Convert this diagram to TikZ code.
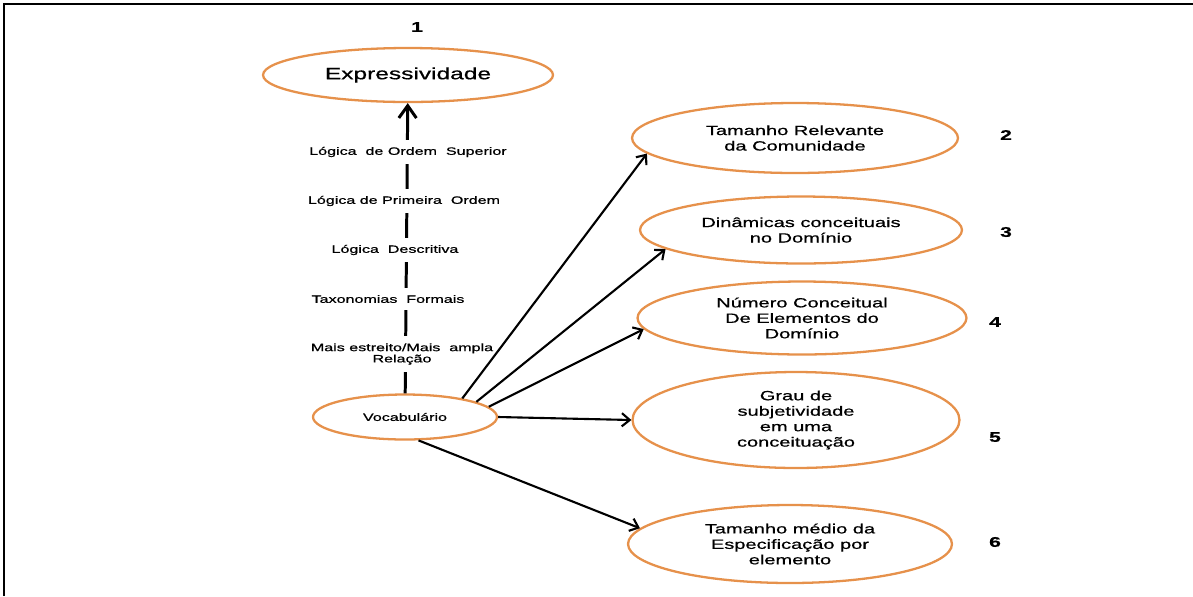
\documentclass[tikz,border=0pt]{standalone}
\usepackage{fontspec}
\setmainfont{Liberation Sans}[FakeStretch=1.5,FakeBold=0.7]
\usepackage{xcolor}
\usetikzlibrary{arrows.meta,shapes}
\definecolor{laranja}{RGB}{230,145,75}

\begin{document}
\begin{tikzpicture}[x=0.02cm,y=-0.02cm,
elipse/.style={shape=ellipse,draw=laranja,fill=white,line width=1.3pt,inner sep=0pt,align=center,font=\fontsize{7.6}{8.8}\selectfont},
rotulo/.style={fill=white,inner xsep=2pt,inner ysep=4pt,align=center,font=\fontsize{6.1}{6.4}\selectfont},
numero/.style={font=\bfseries\fontsize{8}{9}\selectfont},
seta/.style={-{Straight Barb[length=4.5pt,width=7.5pt]},line width=1.2pt}]
\useasboundingbox(0,0)rectangle(1193,596);
\draw[line width=1.5pt](4,596)--(4,4)--(1193,4);
% os dois extremos do eixo
\node[elipse,minimum width=5.8cm,minimum height=1.08cm,font=\fontsize{9.3}{11}\selectfont](expr)at(408,75){Expressividade};
\node[elipse,minimum width=3.68cm,minimum height=0.9cm,font=\fontsize{6.1}{7}\selectfont](vocab)at(405,417){Vocabulário};
\draw[line width=1.7pt,-{Straight Barb[length=7pt,width=10pt]}](vocab)--(expr);
\node[rotulo](sup)at(408,152){Lógica\ \ de Ordem\ \ Superior};
\node[rotulo](prim)at(404,201){Lógica de Primeira\ \ Ordem};
\node[rotulo](desc)at(395,250){Lógica\ \ Descritiva};
\node[rotulo](tax)at(388,299){Taxonomias\ \ Formais};
\node[rotulo](rel)at(402,354){Mais estreito/Mais\ \ ampla\\Relação};
% elipses da direita
\node[elipse,minimum width=6.52cm,minimum height=1.4cm](e2)at(795,138){Tamanho Relevante\\da Comunidade};
\node[elipse,minimum width=6.44cm,minimum height=1.34cm](e3)at(801,230){Dinâmicas conceituais\\no Domínio};
\node[elipse,minimum width=6.58cm,minimum height=1.46cm](e4)at(802,318){Número Conceitual\\De Elementos do\\Domínio};
\node[elipse,minimum width=6.54cm,minimum height=1.92cm](e5)at(796,420){Grau de\\subjetividade\\em uma\\conceituação};
\node[elipse,minimum width=6.48cm,minimum height=1.56cm](e6)at(790,544){Tamanho médio da\\Especificação por\\elemento};
\draw[seta](vocab.18)--(e2.186);
\draw[seta](vocab.12)--(e3.188);
\draw[seta](vocab.7)--(e4.184);
\draw[seta](vocab.east)--(e5.west);
\draw[seta](vocab.-60)--(e6.174);
% numeros
\node[numero](n1)at(417,27){1};
\node[numero](n2)at(1006,135){2};
\node[numero](n3)at(1006,232){3};
\node[numero](n4)at(995,322){4};
\node[numero](n5)at(995,437){5};
\node[numero](n6)at(995,542){6};
\end{tikzpicture}
\end{document}
